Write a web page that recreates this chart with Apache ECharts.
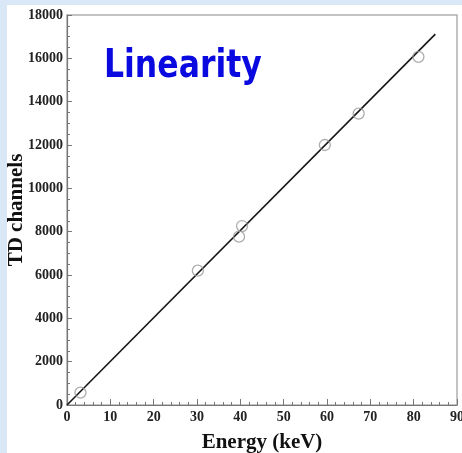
<!DOCTYPE html>
<html>
<head>
<meta charset="utf-8">
<script src="https://cdn.jsdelivr.net/npm/echarts@6/dist/echarts.min.js"></script>
<style>
  html, body { margin: 0; padding: 0; background: #fff; }
  #chart { width: 462px; height: 453px; }
</style>
</head>
<body>
<div id="chart"></div>
<script>
// measured points (keV -> TD channel)
const energy = [3.1, 30.2, 39.7, 40.4, 59.5, 67.3, 81.1];
const channels = [570, 6200, 7770, 8260, 12000, 13450, 16070];

// fitted straight line end points
const fitEnergy = [0, 85];
const fitChannels = [0, 17120];

const xTicks = { min: 0, max: 90, step: 10 };
const yTicks = { min: 0, max: 18000, step: 2000 };

const serif = '"Liberation Serif", "DejaVu Serif", serif';

const chart = echarts.init(document.getElementById('chart'));

const option = {
  animation: false,
  backgroundColor: '#d9e7f6',
  graphic: [
    {
      type: 'rect',
      z: -10,
      shape: { x: 7, y: 5, width: 470, height: 460 },
      style: { fill: '#ffffff' }
    },
    {
      type: 'text',
      x: 104,
      y: 67,
      scaleX: 0.875,
      scaleY: 1.08,
      z: 10,
      style: {
        text: 'Linearity',
        font: 'bold 36px "DejaVu Sans", sans-serif',
        fill: '#0a0ae0',
        textAlign: 'left',
        textVerticalAlign: 'middle'
      }
    }
  ],
  grid: {
    left: 67,
    top: 15,
    width: 390,
    height: 390,
    outerBoundsMode: 'none',
    containLabel: false,
    show: true,
    borderColor: '#b0b0b0',
    borderWidth: 1.5,
    backgroundColor: '#fff'
  },
  xAxis: {
    type: 'value',
    min: xTicks.min,
    max: xTicks.max,
    interval: xTicks.step,
    name: 'Energy (keV)',
    nameLocation: 'middle',
    nameGap: 27,
    nameMoveOverlap: false,
    nameTextStyle: { fontFamily: serif, fontWeight: 'bold', fontSize: 21, color: '#111' },
    axisLine: { lineStyle: { color: '#777', width: 1.2 } },
    axisTick: { inside: true, length: 6, lineStyle: { color: '#777' } },
    minorTick: { show: true, splitNumber: 5, length: 3, lineStyle: { color: '#777' } },
    axisLabel: { fontFamily: serif, fontWeight: 'bold', fontSize: 14, color: '#222', margin: 5 },
    splitLine: { show: false }
  },
  yAxis: {
    type: 'value',
    min: yTicks.min,
    max: yTicks.max,
    interval: yTicks.step,
    name: 'TD channels',
    nameLocation: 'middle',
    nameGap: 40,
    nameMoveOverlap: false,
    nameTextStyle: { fontFamily: serif, fontWeight: 'bold', fontSize: 21, color: '#111' },
    axisLine: { show: true, lineStyle: { color: '#777', width: 1.2 } },
    axisTick: { show: true, inside: true, length: 5, lineStyle: { color: '#777' } },
    minorTick: { show: true, splitNumber: 4, length: 3, lineStyle: { color: '#777' } },
    axisLabel: {
      fontFamily: serif, fontWeight: 'bold', fontSize: 14, color: '#222', margin: 4,
      formatter: (v) => String(v)
    },
    splitLine: { show: false }
  },
  series: [
    {
      name: 'fit',
      type: 'line',
      showSymbol: false,
      data: fitEnergy.map((e, i) => [e, fitChannels[i]]),
      lineStyle: { color: '#151515', width: 1.6 },
      z: 3
    },
    {
      name: 'data',
      type: 'scatter',
      symbol: 'circle',
      symbolSize: 11,
      data: energy.map((e, i) => [e, channels[i]]),
      itemStyle: { color: 'rgba(0,0,0,0)', borderColor: '#999', borderWidth: 1.3 },
      z: 4
    }
  ]
};

chart.setOption(option);
</script>
</body>
</html>
